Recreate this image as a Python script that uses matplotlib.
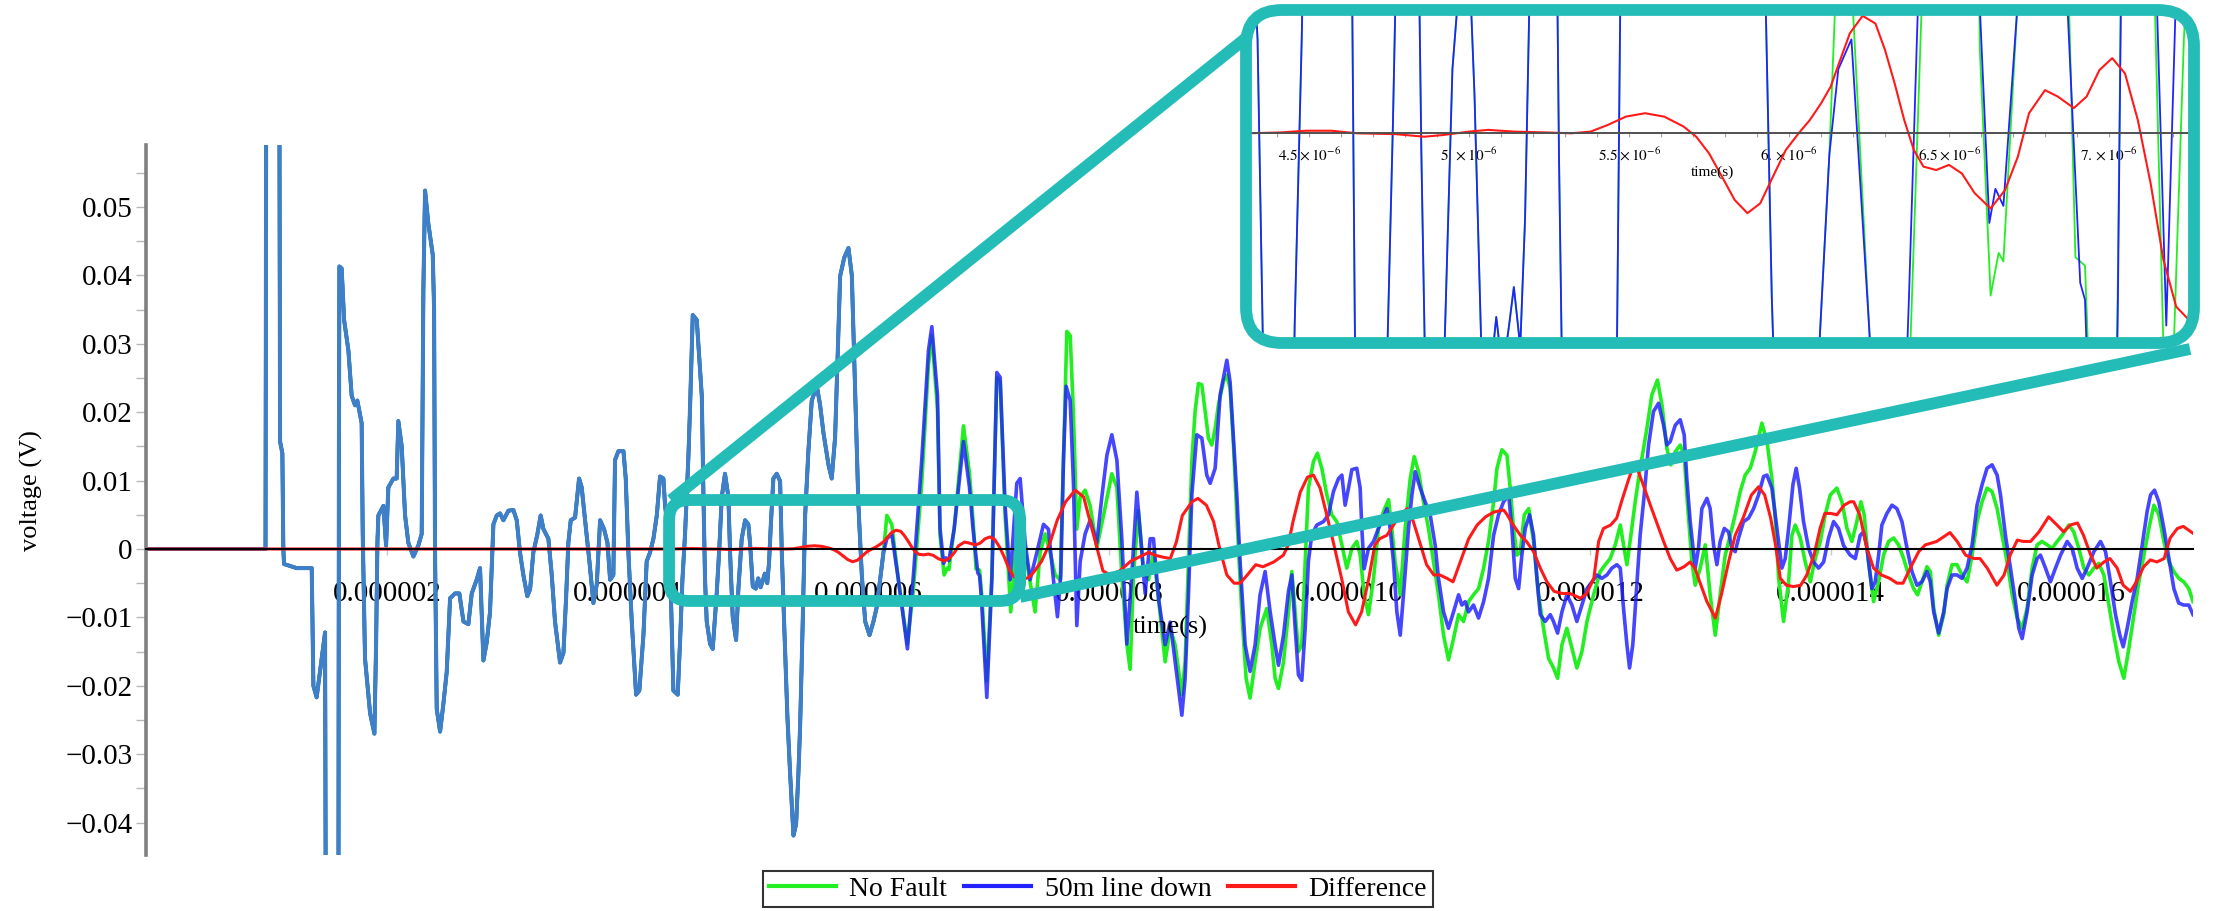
import numpy as np
import matplotlib
matplotlib.use('Agg')
import matplotlib.pyplot as plt
from matplotlib.patches import FancyBboxPatch
from matplotlib.ticker import FixedLocator, MultipleLocator, FuncFormatter

# ---------------- data (time in microseconds, voltage in V) ----------------
# segment where both waveforms coincide
t_common_us = [0.0, 0.99, 0.996, 1.105, 1.111, 1.130, 1.138, 1.144, 1.249, 1.374, 1.388, 1.415, 1.457, 1.485,
    1.493, 1.595, 1.600, 1.604, 1.623, 1.643, 1.679, 1.706, 1.734, 1.753, 1.789, 1.798, 1.817, 1.859, 1.895,
    1.909, 1.920, 1.928, 1.970, 1.992, 2.011, 2.053, 2.080, 2.094, 2.122, 2.150, 2.177, 2.219, 2.260, 2.288,
    2.302, 2.316, 2.343, 2.380, 2.391, 2.399, 2.413, 2.441, 2.468, 2.496, 2.524, 2.565, 2.601, 2.635, 2.676,
    2.704, 2.745, 2.773, 2.801, 2.829, 2.856, 2.884, 2.912, 2.939, 2.967, 3.009, 3.050, 3.078, 3.105, 3.133,
    3.166, 3.189, 3.216, 3.250, 3.277, 3.300, 3.341, 3.369, 3.396, 3.438, 3.466, 3.488, 3.507, 3.527, 3.563,
    3.596, 3.618, 3.646, 3.682, 3.715, 3.743, 3.771, 3.804, 3.832, 3.854, 3.881, 3.895, 3.923, 3.965, 3.984,
    4.006, 4.034, 4.070, 4.097, 4.131, 4.158, 4.186, 4.214, 4.242, 4.269, 4.297, 4.311, 4.339, 4.358, 4.380,
    4.416, 4.436, 4.455, 4.477, 4.505, 4.519, 4.541, 4.574, 4.588, 4.616, 4.630, 4.643, 4.657, 4.685, 4.707,
    4.740, 4.762, 4.782, 4.809, 4.837, 4.851, 4.873, 4.901, 4.920, 4.948, 4.976, 5.003, 5.017, 5.040, 5.065,
    5.085, 5.105, 5.125, 5.140, 5.160, 5.175, 5.190, 5.211, 5.239, 5.267, 5.281, 5.300, 5.328, 5.350, 5.378,
    5.400, 5.419, 5.433, 5.455, 5.475, 5.502, 5.530, 5.572, 5.599, 5.627, 5.669, 5.696, 5.724, 5.752, 5.766,
    5.800, 5.835, 5.863, 5.891, 5.918, 5.946, 5.974, 6.010, 6.043, 6.070, 6.098, 6.126]
v_common = [0.0, 0.0, 0.07, 0.07, 0.0157, 0.0140, 0.0, -0.0022, -0.0028, -0.0028, -0.0200, -0.0217, -0.0160, -0.0122,
    -0.07, -0.07, 0.0130, 0.0413, 0.0410, 0.0335, 0.0290, 0.0224, 0.0210, 0.0217, 0.0184, 0.0022, -0.0160, -0.0240, -0.0270,
    -0.0139, 0.0009, 0.0049, 0.0063, 0.0005, 0.0090, 0.0103, 0.0103, 0.0187, 0.0150, 0.0049, 0.0009, -0.0011, 0.0005, 0.0022,
    0.0379, 0.0524, 0.0476, 0.0430, 0.0352, -0.0005, -0.0234, -0.0267, -0.0227, -0.0180, -0.0072, -0.0065, -0.0065, -0.0106, -0.0110,
    -0.0065, -0.0045, -0.0028, -0.0163, -0.0136, -0.0092, 0.0036, 0.0049, 0.0052, 0.0042, 0.0056, 0.0057, 0.0042, -0.0005, -0.0038,
    -0.0069, -0.0059, -0.0005, 0.0022, 0.0049, 0.0029, 0.0015, -0.0038, -0.0106, -0.0166, -0.0152, -0.0072, 0.0009, 0.0042, 0.0046,
    0.0103, 0.0090, 0.0042, -0.0018, -0.0079, -0.0052, 0.0042, 0.0029, 0.0009, -0.0045, -0.0038, 0.0130, 0.0143, 0.0143, 0.0103,
    -0.0005, -0.0106, -0.0213, -0.0207, -0.0126, -0.0018, -0.0005, 0.0015, 0.0049, 0.0106, 0.0103, 0.0063, 0.0022, -0.0059, -0.0207,
    -0.0213, -0.0133, -0.0045, 0.0022, 0.0136, 0.0210, 0.0342, 0.0335, 0.0298, 0.0224, 0.0076, -0.0045, -0.0106, -0.0139, -0.0146,
    -0.0065, 0.0002, 0.0076, 0.0110, 0.0076, -0.0005, -0.0099, -0.0133, -0.0059, 0.0015, 0.0042, 0.0036, 0.0009, -0.0055, -0.0058,
    -0.0043, -0.0056, -0.0045, -0.0036, -0.0050, -0.0020, 0.0036, 0.0103, 0.0110, 0.0099, -0.0005, -0.0106, -0.0247, -0.0328, -0.0419,
    -0.0402, -0.0328, -0.0261, -0.0106, 0.0049, 0.0143, 0.0217, 0.0238, 0.0211, 0.0170, 0.0123, 0.0103, 0.0163, 0.0318, 0.0399,
    0.0426, 0.0440, 0.0400, 0.0230, 0.0063, -0.0038, -0.0106, -0.0126, -0.0106, -0.0085, -0.0045, -0.0005]

# "50m line down" after the waveforms separate
t_fault_us = [6.154, 6.195, 6.250, 6.325, 6.375, 6.444, 6.500, 6.528, 6.575, 6.596, 6.626, 6.645, 6.670, 6.714, 6.791,
    6.841, 6.870, 6.910, 6.925, 6.940, 6.985, 7.027, 7.068, 7.096, 7.137, 7.179, 7.234, 7.262, 7.304, 7.345, 7.401,
    7.456, 7.497, 7.539, 7.572, 7.600, 7.622, 7.644, 7.678, 7.705, 7.733, 7.761, 7.802, 7.844, 7.899, 7.941, 7.983,
    8.024, 8.066, 8.107, 8.149, 8.190, 8.232, 8.274, 8.301, 8.343, 8.370, 8.412, 8.467, 8.509, 8.550, 8.606, 8.633,
    8.661, 8.689, 8.730, 8.772, 8.813, 8.841, 8.883, 8.924, 8.980, 9.007, 9.035, 9.063, 9.090, 9.132, 9.173, 9.215,
    9.256, 9.298, 9.340, 9.381, 9.409, 9.451, 9.492, 9.520, 9.548, 9.575, 9.603, 9.631, 9.658, 9.686, 9.728, 9.783,
    9.825, 9.866, 9.908, 9.936, 9.963, 9.991, 10.019, 10.060, 10.088, 10.102, 10.121, 10.157, 10.199, 10.240, 10.268,
    10.310, 10.337, 10.365, 10.393, 10.421, 10.448, 10.490, 10.518, 10.545, 10.587, 10.628, 10.670, 10.711, 10.739,
    10.781, 10.822, 10.864, 10.906, 10.933, 10.961, 10.989, 11.030, 11.072, 11.114, 11.155, 11.197, 11.238, 11.280,
    11.322, 11.349, 11.377, 11.405, 11.432, 11.460, 11.496, 11.529, 11.557, 11.585, 11.626, 11.668, 11.695, 11.729,
    11.765, 11.806, 11.848, 11.889, 11.931, 11.973, 12.014, 12.056, 12.097, 12.139, 12.180, 12.222, 12.250, 12.277,
    12.305, 12.327, 12.354, 12.382, 12.415, 12.449, 12.485, 12.526, 12.568, 12.610, 12.637, 12.665, 12.707, 12.748,
    12.781, 12.803, 12.831, 12.873, 12.900, 12.928, 12.970, 12.997, 13.025, 13.053, 13.080, 13.114, 13.150, 13.177,
    13.205, 13.233, 13.274, 13.316, 13.358, 13.399, 13.441, 13.469, 13.510, 13.552, 13.593, 13.621, 13.649, 13.685,
    13.712, 13.740, 13.773, 13.815, 13.856, 13.898, 13.940, 13.981, 14.023, 14.064, 14.106, 14.161, 14.203, 14.244,
    14.272, 14.300, 14.341, 14.369, 14.397, 14.424, 14.466, 14.508, 14.549, 14.591, 14.633, 14.674, 14.716, 14.757,
    14.799, 14.827, 14.855, 14.896, 14.938, 14.966, 15.007, 15.049, 15.090, 15.132, 15.174, 15.215, 15.257, 15.298,
    15.340, 15.382, 15.410, 15.451, 15.493, 15.534, 15.562, 15.590, 15.631, 15.673, 15.714, 15.742, 15.784, 15.825,
    15.867, 15.909, 15.964, 16.006, 16.047, 16.089, 16.130, 16.186, 16.241, 16.283, 16.324, 16.366, 16.402, 16.430,
    16.463, 16.504, 16.546, 16.588, 16.629, 16.657, 16.690, 16.726, 16.768, 16.810, 16.851, 16.891, 16.933, 16.975, 17.010]
v_fault = [0.0015, 0.0022, -0.0045, -0.0146, -0.0038, 0.0130, 0.0290, 0.0325, 0.0224, 0.0030, -0.0021, -0.0013, -0.0017, 0.0030, 0.0157,
    0.0090, 0.0030, -0.0035, -0.0039, -0.0072, -0.0217, -0.0045, 0.0258, 0.0251, 0.0063, -0.0045, 0.0096, 0.0103, 0.0009, -0.0045, -0.0005,
    0.0036, 0.0029, -0.0045, -0.0099, -0.0038, 0.0130, 0.0238, 0.0217, 0.0096, -0.0112, -0.0018, 0.0022, 0.0042, 0.0009, 0.0076, 0.0137,
    0.0167, 0.0130, 0.0015, -0.0139, -0.0038, 0.0083, -0.0005, -0.0065, 0.0015, 0.0015, -0.0072, -0.0140, -0.0107, -0.0165, -0.0243, -0.0190,
    -0.0067, 0.0079, 0.0167, 0.0162, 0.0108, 0.0096, 0.0118, 0.0225, 0.0276, 0.0244, 0.0161, 0.0079, -0.0018, -0.0140, -0.0179, -0.0140,
    -0.0067, -0.0033, -0.0092, -0.0140, -0.0170, -0.0126, -0.0062, -0.0038, -0.0116, -0.0184, -0.0192, -0.0116, -0.0018, 0.0021, 0.0035, 0.0040,
    0.0050, 0.0084, 0.0103, 0.0108, 0.0064, 0.0089, 0.0116, 0.0118, 0.0089, 0.0030, -0.0029, 0.0001, 0.0011, 0.0030, 0.0040,
    0.0059, 0.0030, -0.0019, -0.0092, -0.0126, -0.0067, 0.0030, 0.0079, 0.0113, 0.0089, 0.0069, 0.0050, 0.0006, -0.0043,
    -0.0092, -0.0116, -0.0092, -0.0067, -0.0082, -0.0077, -0.0092, -0.0082, -0.0101, -0.0077, -0.0043, 0.0020, 0.0050, 0.0069,
    0.0079, 0.0030, -0.0043, -0.0058, -0.0009, 0.0030, 0.0050, 0.0020, -0.0043, -0.0096, -0.0106, -0.0096, -0.0106, -0.0123,
    -0.0092, -0.0067, -0.0082, -0.0106, -0.0082, -0.0058, -0.0048, -0.0038, -0.0043, -0.0038, -0.0028, -0.0023, -0.0028, -0.0087,
    -0.0140, -0.0174, -0.0140, -0.0067, 0.0020, 0.0079, 0.0152, 0.0201, 0.0213, 0.0181, 0.0152, 0.0157, 0.0181, 0.0189,
    0.0167, 0.0103, 0.0040, -0.0028, 0.0001, 0.0059, 0.0074, 0.0059, 0.0006, -0.0023, 0.0011, 0.0030, 0.0025, 0.0001,
    -0.0004, 0.0016, 0.0040, 0.0045, 0.0059, 0.0079, 0.0106, 0.0108, 0.0089, 0.0030, -0.0028, -0.0014, 0.0030, 0.0094,
    0.0118, 0.0089, 0.0040, 0.0001, -0.0019, -0.0028, -0.0019, 0.0016, 0.0040, 0.0030, 0.0005, -0.0009, -0.0014, 0.0020,
    0.0025, 0.0001, -0.0058, -0.0048, -0.0009, 0.0035, 0.0052, 0.0064, 0.0059, 0.0040, 0.0001, -0.0033, -0.0053, -0.0048,
    -0.0033, -0.0048, -0.0092, -0.0123, -0.0092, -0.0058, -0.0038, -0.0038, -0.0043, -0.0028, 0.0006, 0.0064, 0.0094, 0.0118,
    0.0123, 0.0108, 0.0079, 0.0020, -0.0028, -0.0077, -0.0116, -0.0131, -0.0092, -0.0038, -0.0014, -0.0009, -0.0028, -0.0048,
    -0.0028, -0.0009, 0.0011, 0.0001, -0.0028, -0.0043, -0.0028, -0.0004, 0.0011, -0.0004, -0.0048, -0.0096, -0.0126, -0.0143,
    -0.0116, -0.0077, -0.0043, 0.0006, 0.0055, 0.0079, 0.0086, 0.0069, 0.0030, -0.0014, -0.0058, -0.0079, -0.0082, -0.0082, -0.0096]

# "No Fault" after the waveforms separate
t_nofault_us = [6.154, 6.195, 6.250, 6.325, 6.375, 6.444, 6.500, 6.528, 6.575, 6.596, 6.630, 6.655, 6.670, 6.714, 6.791,
    6.841, 6.875, 6.895, 6.925, 6.945, 6.985, 7.027, 7.068, 7.096, 7.137, 7.184, 7.234, 7.262, 7.304, 7.386, 7.428,
    7.470, 7.511, 7.553, 7.595, 7.622, 7.650, 7.678, 7.705, 7.733, 7.761, 7.802, 7.844, 7.899, 7.955, 8.024, 8.066,
    8.107, 8.149, 8.176, 8.204, 8.245, 8.287, 8.329, 8.370, 8.412, 8.467, 8.509, 8.550, 8.606, 8.633, 8.661, 8.689,
    8.716, 8.744, 8.772, 8.800, 8.827, 8.855, 8.883, 8.910, 8.952, 8.980, 9.007, 9.035, 9.068, 9.104, 9.140, 9.173,
    9.215, 9.256, 9.312, 9.354, 9.381, 9.409, 9.451, 9.492, 9.520, 9.548, 9.575, 9.603, 9.631, 9.658, 9.700, 9.733,
    9.769, 9.811, 9.852, 9.894, 9.936, 9.977, 10.019, 10.060, 10.088, 10.121, 10.157, 10.199, 10.240, 10.282, 10.324,
    10.351, 10.379, 10.421, 10.462, 10.504, 10.537, 10.573, 10.614, 10.656, 10.698, 10.739, 10.781, 10.822, 10.864,
    10.906, 10.947, 10.989, 11.030, 11.072, 11.114, 11.155, 11.197, 11.225, 11.266, 11.308, 11.335, 11.363, 11.391,
    11.418, 11.452, 11.489, 11.529, 11.571, 11.612, 11.654, 11.695, 11.729, 11.765, 11.806, 11.848, 11.889, 11.931,
    11.973, 12.028, 12.083, 12.125, 12.166, 12.208, 12.250, 12.277, 12.305, 12.338, 12.374, 12.415, 12.471, 12.512,
    12.559, 12.596, 12.637, 12.670, 12.707, 12.748, 12.781, 12.803, 12.845, 12.873, 12.914, 12.956, 12.997, 13.039,
    13.080, 13.122, 13.164, 13.205, 13.247, 13.288, 13.330, 13.371, 13.427, 13.469, 13.510, 13.538, 13.566, 13.607,
    13.649, 13.676, 13.704, 13.746, 13.787, 13.829, 13.870, 13.912, 13.953, 13.995, 14.050, 14.092, 14.134, 14.175,
    14.216, 14.250, 14.277, 14.313, 14.355, 14.397, 14.438, 14.480, 14.522, 14.563, 14.605, 14.646, 14.688, 14.721,
    14.757, 14.799, 14.827, 14.855, 14.896, 14.938, 14.966, 15.007, 15.049, 15.090, 15.132, 15.174, 15.215, 15.257,
    15.298, 15.340, 15.382, 15.423, 15.465, 15.507, 15.548, 15.590, 15.631, 15.673, 15.714, 15.756, 15.798, 15.839,
    15.881, 15.922, 15.978, 16.019, 16.061, 16.103, 16.144, 16.186, 16.227, 16.269, 16.311, 16.352, 16.394, 16.435,
    16.477, 16.519, 16.560, 16.602, 16.643, 16.685, 16.726, 16.768, 16.810, 16.851, 16.893, 16.933, 16.975, 17.010]
v_nofault = [0.0049, 0.0036, -0.0045, -0.0139, -0.0059, 0.0096, 0.0270, 0.0312, 0.0204, 0.0020, -0.0038, -0.0028, -0.0030, 0.0030, 0.0180,
    0.0110, 0.0030, -0.0029, -0.0031, -0.0072, -0.0193, -0.0038, 0.0251, 0.0244, 0.0049, -0.0092, 0.0022, 0.0063, -0.0005, -0.0092, -0.0005,
    0.0022, -0.0005, -0.0038, -0.0045, 0.0130, 0.0318, 0.0312, 0.0197, 0.0029, 0.0076, 0.0086, 0.0063, 0.0002, 0.0049, 0.0110, 0.0090,
    -0.0038, -0.0139, -0.0176, -0.0038, 0.0056, -0.0032, -0.0045, -0.0005, -0.0072, -0.0165, -0.0116, -0.0140, -0.0213, -0.0165, -0.0019, 0.0128,
    0.0201, 0.0242, 0.0240, 0.0201, 0.0162, 0.0152, 0.0176, 0.0211, 0.0245, 0.0254, 0.0235, 0.0152, 0.0030, -0.0092, -0.0189, -0.0218,
    -0.0165, -0.0116, -0.0087, -0.0140, -0.0189, -0.0204, -0.0165, -0.0092, -0.0033, -0.0092, -0.0150, -0.0140, -0.0019, 0.0089, 0.0128, 0.0140,
    0.0118, 0.0079, 0.0050, 0.0040, 0.0006, -0.0028, 0.0001, 0.0011, -0.0009, -0.0067, -0.0096, -0.0043, 0.0030, 0.0055, 0.0072,
    0.0030, -0.0019, -0.0067, 0.0030, 0.0103, 0.0135, 0.0113, 0.0069, 0.0030, -0.0019, -0.0067, -0.0126, -0.0162, -0.0131,
    -0.0096, -0.0106, -0.0077, -0.0067, -0.0058, -0.0028, 0.0011, 0.0069, 0.0118, 0.0145, 0.0137, 0.0089, 0.0030, -0.0009,
    -0.0005, 0.0050, 0.0059, 0.0011, -0.0067, -0.0116, -0.0160, -0.0174, -0.0189, -0.0140, -0.0116, -0.0145, -0.0174, -0.0150,
    -0.0106, -0.0067, -0.0033, -0.0023, -0.0014, 0.0006, 0.0035, 0.0006, -0.0023, 0.0020, 0.0069, 0.0118, 0.0176, 0.0225,
    0.0247, 0.0211, 0.0147, 0.0123, 0.0142, 0.0152, 0.0137, 0.0079, -0.0019, -0.0053, -0.0028, 0.0006, -0.0067, -0.0126,
    -0.0067, -0.0009, 0.0020, 0.0050, 0.0084, 0.0108, 0.0118, 0.0142, 0.0184, 0.0157, 0.0103, 0.0045, -0.0043, -0.0106,
    -0.0048, 0.0020, 0.0035, 0.0016, -0.0019, -0.0048, -0.0014, 0.0011, 0.0050, 0.0079, 0.0089, 0.0069, 0.0030, 0.0011,
    0.0040, 0.0069, 0.0050, -0.0019, -0.0077, -0.0048, -0.0009, 0.0011, 0.0016, 0.0006, -0.0014, -0.0038, -0.0058, -0.0067,
    -0.0048, -0.0026, -0.0033, -0.0087, -0.0126, -0.0096, -0.0053, -0.0023, -0.0023, -0.0038, -0.0048, -0.0009, 0.0040, 0.0069,
    0.0089, 0.0084, 0.0059, 0.0020, -0.0019, -0.0067, -0.0101, -0.0116, -0.0087, -0.0028, 0.0006, 0.0011, 0.0006, 0.0001,
    0.0011, 0.0020, 0.0035, 0.0025, 0.0001, -0.0028, -0.0038, -0.0028, -0.0021, -0.0038, -0.0082, -0.0126, -0.0165, -0.0189,
    -0.0145, -0.0096, -0.0048, -0.0009, 0.0030, 0.0064, 0.0050, 0.0011, -0.0019, -0.0033, -0.0043, -0.0048, -0.0058, -0.0077]

# Difference
t_diff_us = [0.0, 4.31, 4.41, 4.49, 4.57, 4.65, 4.77, 4.86, 4.92, 5.00, 5.06, 5.14, 5.24, 5.32, 5.38, 5.435, 5.49, 5.55,
    5.61, 5.67, 5.71, 5.75, 5.79, 5.83, 5.87, 5.91, 5.95, 5.99, 6.03, 6.065, 6.10, 6.13, 6.16, 6.19, 6.23, 6.27, 6.30,
    6.33, 6.36, 6.39, 6.42, 6.46, 6.50, 6.54, 6.58, 6.63, 6.675, 6.715, 6.75, 6.80, 6.84, 6.89, 6.93, 6.97, 7.01, 7.05,
    7.09, 7.13, 7.17, 7.21, 7.25, 7.28, 7.33, 7.37, 7.44, 7.51, 7.57, 7.64, 7.72, 7.79, 7.84, 7.90, 7.95, 8.01, 8.09,
    8.18, 8.26, 8.33, 8.38, 8.45, 8.51, 8.56, 8.61, 8.69, 8.74, 8.81, 8.87, 8.92, 8.98, 9.04, 9.09, 9.15, 9.22, 9.28,
    9.37, 9.45, 9.49, 9.53, 9.59, 9.65, 9.70, 9.755, 9.81, 9.87, 9.94, 9.99, 10.05, 10.10, 10.16, 10.21, 10.25, 10.31,
    10.365, 10.42, 10.48, 10.53, 10.59, 10.64, 10.70, 10.75, 10.81, 10.86, 10.92, 10.99, 11.06, 11.13, 11.20, 11.28,
    11.31, 11.36, 11.42, 11.47, 11.53, 11.585, 11.64, 11.70, 11.765, 11.83, 11.92, 11.97, 12.03, 12.07, 12.11, 12.17,
    12.22, 12.26, 12.305, 12.35, 12.39, 12.44, 12.50, 12.55, 12.61, 12.665, 12.72, 12.78, 12.83, 12.87, 12.91, 12.97,
    13.04, 13.09, 13.15, 13.205, 13.27, 13.34, 13.40, 13.45, 13.50, 13.54, 13.58, 13.63, 13.69, 13.75, 13.80, 13.86,
    13.91, 13.95, 14.00, 14.05, 14.11, 14.16, 14.19, 14.24, 14.30, 14.355, 14.42, 14.49, 14.55, 14.60, 14.66, 14.73,
    14.785, 14.88, 14.94, 14.99, 15.05, 15.12, 15.19, 15.24, 15.30, 15.38, 15.44, 15.49, 15.55, 15.60, 15.66, 15.73,
    15.81, 15.88, 15.935, 15.99, 16.05, 16.10, 16.16, 16.21, 16.27, 16.32, 16.38, 16.43, 16.49, 16.54, 16.60, 16.655,
    16.71, 16.77, 16.82, 16.88, 16.93, 17.01]
v_diff = [0.0, 0.0, 0.00002, 0.00006, 0.00006, 0.0, -0.00002, -0.00008, -0.00004, 0.00004, 0.00008, 0.00004, 0.00002, 0.0, 0.00004, 0.0002, 0.00039, 0.00047,
    0.00039, 0.00016, -0.00008, -0.00047, -0.00101, -0.00156, -0.00187, -0.00164, -0.00101, -0.00039, 0.0, 0.00031, 0.0007, 0.00109, 0.00172, 0.00234, 0.00275, 0.00257, 0.00195,
    0.00117, 0.00031, -0.00039, -0.00078, -0.00086, -0.00074, -0.00094, -0.0014, -0.00176, -0.00133, -0.00055, 0.00047, 0.00101, 0.00086, 0.00059, 0.00086, 0.00148, 0.00176, 0.0014,
    0.00031, -0.00117, -0.00296, -0.00406, -0.00437, -0.00445, -0.0042, -0.0035, -0.0018, 0.0009, 0.0042, 0.0069, 0.0086, 0.0076, 0.0042, 0.0002, -0.0032, -0.0038, -0.0032,
    -0.0018, -0.0011, -0.0005, -0.0009, -0.0012, -0.0014, 0.0010, 0.0049, 0.0069, 0.0074, 0.0064, 0.0040, 0.0001, -0.0038, -0.0050, -0.0050, -0.0038, -0.0023, -0.0026,
    -0.0019, -0.0009, 0.0006, 0.0040, 0.0083, 0.0105, 0.0108, 0.0089, 0.0050, 0.0006, -0.0048, -0.0092, -0.0111, -0.0092, -0.0043, 0.0006, 0.0015, 0.0020,
    0.0035, 0.0050, 0.0059, 0.0040, 0.0006, -0.0023, -0.0038, -0.0038, -0.0043, -0.0048, -0.0019, 0.0015, 0.0035, 0.0047, 0.0054, 0.0057,
    0.0050, 0.0035, 0.0020, 0.0011, -0.0004, -0.0028, -0.0048, -0.0062, -0.0065, -0.0065, -0.0072, -0.0065, -0.0043, 0.0011, 0.0030, 0.0035,
    0.0045, 0.0069, 0.0094, 0.0118, 0.0118, 0.0094, 0.0064, 0.0040, 0.0011, -0.0014, -0.0031, -0.0026, -0.0019, -0.0028, -0.0048, -0.0077,
    -0.0101, -0.0067, -0.0019, 0.0020, 0.0045, 0.0079, 0.0091, 0.0079, 0.0045, 0.0006, -0.0043, -0.0053, -0.0055, -0.0053, -0.0038, -0.0009,
    0.0030, 0.0052, 0.0052, 0.0050, 0.0064, 0.0069, 0.0069, 0.0050, 0.0001, -0.0028, -0.0038, -0.0043, -0.0050, -0.0050, -0.0028, -0.0004,
    0.0006, 0.0011, 0.0018, 0.0024, 0.0011, -0.0009, -0.0014, -0.0014, -0.0028, -0.0053, -0.0038, -0.0009, 0.0013, 0.0011, 0.0011, 0.0025,
    0.0047, 0.0035, 0.0025, 0.0035, 0.0038, 0.0020, -0.0009, -0.0028, -0.0019, -0.0014, -0.0028, -0.0053, -0.0062, -0.0048, -0.0026, -0.0016,
    -0.0019, -0.0014, 0.0016, 0.0030, 0.0033, 0.0023]

x_ticks_us = [2, 4, 6, 8, 10, 12, 14, 16]
x_tick_labels = ["0.000002", "0.000004", "0.000006", "0.000008", "0.000010", "0.000012", "0.000014", "0.000016"]
y_ticks = [-0.04, -0.03, -0.02, -0.01, 0.0, 0.01, 0.02, 0.03, 0.04, 0.05]
inset_ticks_us = [4.5, 5.0, 5.5, 6.0, 6.5, 7.0]
inset_tick_labels = [r"$4.5\times10^{-6}$", r"$5.\times10^{-6}$", r"$5.5\times10^{-6}$",
                     r"$6.\times10^{-6}$", r"$6.5\times10^{-6}$", r"$7.\times10^{-6}$"]
series_labels = ["No Fault", "50m line down", "Difference"]
zoom_t_us = (4.344, 7.262)       # zoomed region shown in the inset
zoom_v = (-0.0076, 0.00716)

# ---------------- assemble series ----------------
US = 1e-6
tc = np.array(t_common_us) * US
vc = np.array(v_common)
t_green = np.concatenate([tc, np.array(t_nofault_us) * US])
v_green = np.concatenate([vc, v_nofault])
t_blue = np.concatenate([tc, np.array(t_fault_us) * US])
v_blue = np.concatenate([vc, v_fault])
t_red = np.array(t_diff_us) * US
v_red = np.array(v_diff)

# ---------------- figure ----------------
plt.rcParams['font.family'] = ['Liberation Serif', 'DejaVu Serif']
plt.rcParams['mathtext.fontset'] = 'stix'
W, H = 2213, 911
fig = plt.figure(figsize=(W / 100, H / 100), dpi=100)

def px_rect(x0, y0, x1, y1):
    return [x0 / W, 1 - y1 / H, (x1 - x0) / W, (y1 - y0) / H]

GREEN, BLUE, RED, OVER = '#22ee22', '#2222ff', '#ff1a1a', '#3f7fc8'
TEAL = '#24bcb7'

ax = fig.add_axes(px_rect(146.4, 145, 2193, 855))
ax.set_xlim(0, 17.01e-6)
ax.set_ylim(-0.04474, 0.05906)
lg, = ax.plot(t_green, v_green, color=GREEN, lw=2.6, label=series_labels[0], zorder=2)
lb, = ax.plot(t_blue, v_blue, color=BLUE, lw=2.6, alpha=0.84, label=series_labels[1], zorder=2.1)
ax.plot(tc, vc, color=OVER, lw=2.9, zorder=2.2)
lr, = ax.plot(t_red, v_red, color=RED, lw=2.2, label=series_labels[2], zorder=2.3)

for s in ['top', 'right']:
    ax.spines[s].set_visible(False)
ax.spines['left'].set_color('#808080')
ax.spines['left'].set_linewidth(2.6)
ax.spines['bottom'].set_position(('data', 0))
ax.spines['bottom'].set_color('black')
ax.spines['bottom'].set_linewidth(1.5)

ax.yaxis.set_major_locator(FixedLocator(y_ticks))
ax.yaxis.set_minor_locator(MultipleLocator(0.005))
ax.yaxis.set_major_formatter(FuncFormatter(
    lambda v, _: '0' if abs(v) < 1e-12 else f'{v:.2f}'.replace('-', '\u2212')))
ax.tick_params(axis='y', which='both', direction='out', length=7, width=1.0,
               color='#b8b8b8', labelsize=21, pad=3)
ax.set_xticks([t * US for t in x_ticks_us])
ax.set_xticklabels(x_tick_labels)
ax.tick_params(axis='x', which='major', direction='out', length=4, width=1.0,
               color='#c8c8c8', labelsize=21, pad=19)

fig.text(31 / W, 1 - 491 / H, 'voltage (V)', rotation=90, ha='center', va='center', fontsize=19)
fig.text(1170 / W, 1 - 627 / H, 'time(s)', ha='center', va='center', fontsize=19)

# ---------------- inset ----------------
IX0, IY0, IX1, IY1 = 1247, 12, 2197, 343
axi = fig.add_axes(px_rect(IX0, IY0, IX1, IY1))
axi.set_zorder(5)
axi.set_facecolor('white')
axi.set_xlim(4.306e-6, 7.275e-6)
axi.set_ylim(-0.00491, 0.00284)
axi.plot(t_green, v_green, color=GREEN, lw=1.3)
axi.plot(t_blue, v_blue, color=BLUE, lw=1.3)
axi.plot(t_red, v_red, color=RED, lw=1.5)
for s in ['top', 'right', 'left']:
    axi.spines[s].set_visible(False)
axi.spines['bottom'].set_position(('data', 0))
axi.spines['bottom'].set_color('#505050')
axi.spines['bottom'].set_linewidth(1.4)
axi.set_yticks([])
axi.set_xticks([t * US for t in inset_ticks_us])
axi.set_xticklabels(inset_tick_labels)
axi.xaxis.set_minor_locator(MultipleLocator(0.1e-6))
axi.tick_params(axis='x', which='both', direction='out', length=3, width=0.8,
                color='#a0a0a0', labelsize=11, pad=6)
axi.text(1712 / W, 1 - 172 / H, 'time(s)', transform=fig.transFigure,
         ha='center', va='center', fontsize=11)

# ---------------- zoom decorations ----------------
ov = fig.add_axes([0, 0, 1, 1])
ov.set_zorder(10)
ov.set_xlim(0, W)
ov.set_ylim(H, 0)
ov.axis('off')
ov.patch.set_alpha(0)

def data_to_px(x, y):
    dx, dy = ax.transData.transform((x, y))
    return dx * W / fig.bbox.width, H - dy * H / fig.bbox.height

zx0, zy0 = data_to_px(zoom_t_us[0] * US, zoom_v[1])
zx1, zy1 = data_to_px(zoom_t_us[1] * US, zoom_v[0])
LW = 8.5
ov.add_patch(FancyBboxPatch((zx0, zy0), zx1 - zx0, zy1 - zy0,
                            boxstyle='round,pad=0,rounding_size=20',
                            ec=TEAL, fc='none', lw=LW, zorder=3))
bx0, by0, bx1, by1 = 1246, 10, 2194, 343
ov.add_patch(FancyBboxPatch((bx0, by0), bx1 - bx0, by1 - by0,
                            boxstyle='round,pad=0,rounding_size=36',
                            ec=TEAL, fc='none', lw=LW, zorder=3))
ov.plot([zx0 + 2, bx0], [zy0, by0 + 28], color=TEAL, lw=LW, solid_capstyle='butt', zorder=3)
ov.plot([zx1, bx1 - 4], [zy1 - 4, by1 + 6], color=TEAL, lw=LW, solid_capstyle='butt', zorder=3)

# ---------------- legend ----------------
leg = fig.legend(handles=[lg, lb, lr], labels=series_labels, loc='center',
                 bbox_to_anchor=(1098 / W, 1 - 889 / H), ncol=3, frameon=True,
                 fancybox=False, edgecolor='black', fontsize=20, handlelength=2.4,
                 columnspacing=0.6, handletextpad=0.5, borderpad=0.2, borderaxespad=0)
leg.get_frame().set_linewidth(1.5)
for l in leg.get_lines():
    l.set_linewidth(3)
    l.set_alpha(1.0)

fig.savefig('out.png', dpi=100)
